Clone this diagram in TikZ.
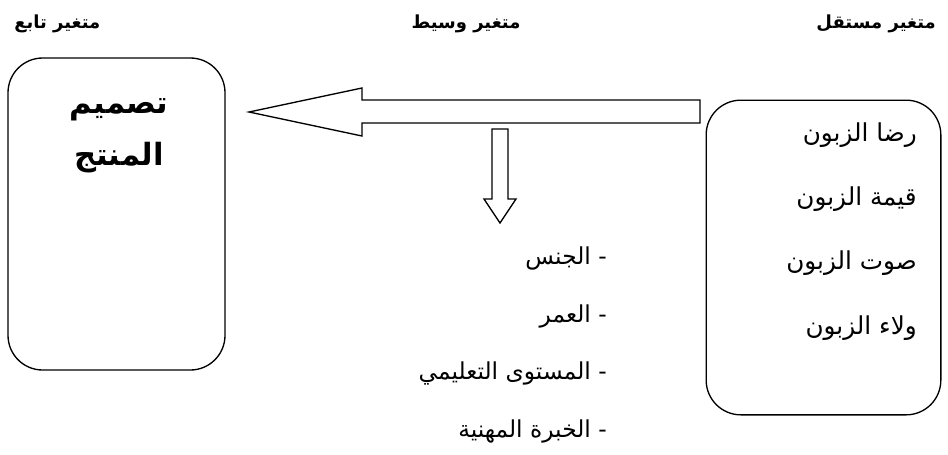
\documentclass[tikz,border=0pt]{standalone}
\usepackage{fontspec}
\newfontfamily\arabicfont[Script=Arabic]{DejaVu Sans}
\TeXXeTstate=1
\begin{document}
\begin{tikzpicture}[x=0.75pt,y=-0.75pt,
  box/.style={draw,line width=1pt,rounded corners=26pt,inner sep=0pt},
  title/.style={font=\arabicfont\bfseries\fontsize{13.5}{16}\selectfont,inner sep=0pt},
  item/.style={font=\arabicfont\fontsize{17.5}{21}\selectfont,anchor=east,inner sep=0pt},
  bigitem/.style={item,font=\arabicfont\fontsize{18.5}{22}\selectfont},
  blockarrow/.style={draw,line width=1pt,fill=white,line join=miter}]
\useasboundingbox (0,0) rectangle (948,454);
% titles
\node[title,anchor=west] (t1) at (14,24) {\beginR متغير تابع\endR};
\node[title] (t2) at (466,24) {\beginR متغير وسيط\endR};
\node[title,anchor=east] (t3) at (936,24) {\beginR متغير مستقل\endR};
% boxes
\node[box,minimum width=162.75pt,minimum height=234pt] (dep) at (116.5,214) {};
\node[box,minimum width=176pt,minimum height=236pt] (ind) at (823.5,257.5) {};
% left box text
\node[font=\arabicfont\bfseries\fontsize{23}{27}\selectfont] (d1) at (119,110) {\beginR تصميم\endR};
\node[font=\arabicfont\bfseries\fontsize{23}{27}\selectfont] (d2) at (119,158) {\beginR المنتج\endR};
% right box text
\node[bigitem] (i1) at (917,135) {\beginR رضا الزبون\endR};
\node[bigitem] (i2) at (917,199) {\beginR قيمة الزبون\endR};
\node[bigitem] (i3) at (917,263) {\beginR صوت الزبون\endR};
\node[bigitem] (i4) at (917,328) {\beginR ولاء الزبون\endR};
% middle list
\node[item] (m1) at (607,258) {\beginR- الجنس\endR};
\node[item] (m2) at (607,316) {\beginR- العمر\endR};
\node[item] (m3) at (607,373) {\beginR- المستوى التعليمي\endR};
\node[item] (m4) at (607,431) {\beginR- الخبرة المهنية\endR};
% block arrows
\coordinate (atail) at (700,111.5);
\coordinate (atip) at (249,112);
\draw[blockarrow] (700,100) -- (362,100) -- (362,88) -- (atip) -- (362,136) -- (362,123) -- (700,123) -- cycle;
\coordinate (dtop) at (500,129);
\coordinate (dtip) at (500,223);
\draw[blockarrow] (492,129) -- (508,129) -- (508,199) -- (516,199) -- (dtip) -- (484,199) -- (492,199) -- cycle;
\end{tikzpicture}
\end{document}
